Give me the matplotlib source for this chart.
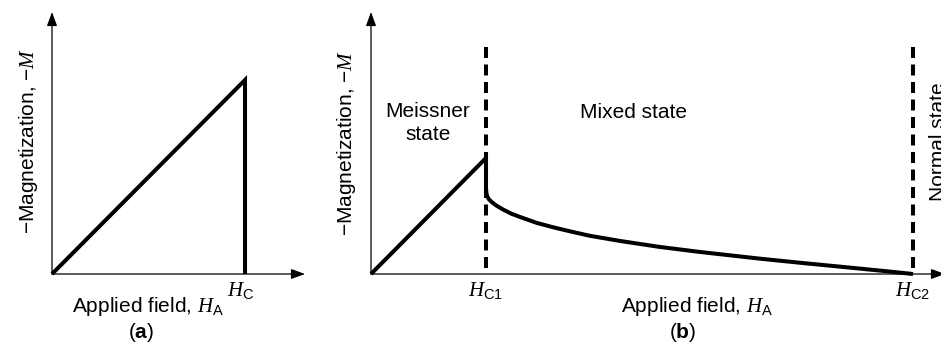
import matplotlib
matplotlib.use("Agg")
import matplotlib.pyplot as plt
from matplotlib.transforms import blended_transform_factory

plt.rcParams.update({
    "font.family": ["Liberation Sans", "DejaVu Sans"],
    "font.size": 15,
    "mathtext.fontset": "custom",
    "mathtext.it": "Liberation Serif:italic",
    "mathtext.rm": "Liberation Sans",
    "mathtext.sf": "Liberation Sans",
    "mathtext.bf": "Liberation Sans:bold",
    "lines.scale_dashes": False,
})

# Type I superconductor: -M rises linearly with H_A, drops to zero at H_C
field_a = [0.0, 1.0, 1.0]
mag_a = [0.0, 1.0, 0.0]
hc_a = 1.0

# Type II superconductor: Meissner branch up to H_C1, mixed-state decay to H_C2
field_meissner = [0.0, 1.0]
mag_meissner = [0.0, 1.0]
field_mixed = [1.0, 1.0, 1.003, 1.01, 1.025, 1.05, 1.09, 1.15, 1.22, 1.30,
               1.443, 1.583, 1.73, 1.9, 2.165, 2.513, 2.861, 3.383, 3.73,
               4.165, 4.45, 4.713]
mag_mixed = [1.0, 0.74, 0.70, 0.67, 0.645, 0.62, 0.59, 0.555, 0.52, 0.49,
             0.44, 0.403, 0.368, 0.33, 0.285, 0.233, 0.19, 0.132, 0.097,
             0.055, 0.027, 0.0]
hc1 = 1.0
hc2 = 4.713

W, H = 941, 345
fig = plt.figure(figsize=(W / 100, H / 100), dpi=100)


def fx(px):
    return px / W


def fy(py):
    return 1 - py / H


def make_axes(left, right, bottom, top):
    ax = fig.add_axes([fx(left), fy(bottom), fx(right) - fx(left), fy(top) - fy(bottom)])
    ax.set_axis_off()
    return ax


LW = 2.9
AX_LW = 0.9

# ---- panel (a) ----
ax_a = make_axes(52, 305, 274, 12)
ax_a.set_xlim(0, 253 / 193)
ax_a.set_ylim(0, 262 / 194)

# ---- panel (b) ----
ax_b = make_axes(371, 945, 274, 12)
ax_b.set_xlim(0, 574 / 115)
ax_b.set_ylim(0, 262 / 116)

for ax in (ax_a, ax_b):
    x1 = ax.get_xlim()[1]
    y1 = ax.get_ylim()[1]
    arrow = dict(arrowstyle="-|>,head_length=0.6,head_width=0.22", lw=AX_LW,
                 color="black", shrinkA=0, shrinkB=0, mutation_scale=14)
    ax.annotate("", xy=(x1, 0), xytext=(0, 0), arrowprops=arrow, annotation_clip=False)
    ax.annotate("", xy=(0, y1), xytext=(0, 0), arrowprops=arrow, annotation_clip=False)

ax_a.plot(field_a, mag_a, color="black", lw=LW, solid_capstyle="butt",
          solid_joinstyle="miter", clip_on=False)

dash_top = 227 / 116
for hx in (hc1, hc2):
    ax_b.plot([hx, hx], [dash_top, 0], color="black", lw=LW, dashes=(7.9, 4.7),
              dash_capstyle="butt", clip_on=False)
ax_b.plot(field_meissner, mag_meissner, color="black", lw=LW, solid_capstyle="butt",
          solid_joinstyle="miter", clip_on=False)
ax_b.plot(field_mixed, mag_mixed, color="black", lw=LW, solid_capstyle="butt",
          solid_joinstyle="round", clip_on=False)

# ---- labels ----
ylab = "\u2212Magnetization, \u2212$M$"
fig.text(fx(29), fy(141), ylab, rotation=90, ha="center", va="center")
fig.text(fx(347), fy(143), ylab, rotation=90, ha="center", va="center")

xlab = "Applied field, $H_{\\mathrm{A}}$"
fig.text(fx(148), fy(295), xlab, ha="center", va="top")
fig.text(fx(697), fy(295), xlab, ha="center", va="top")

fig.text(fx(141), fy(332), "($\\mathbf{a}$)", ha="center", va="center")
fig.text(fx(683), fy(332), "($\\mathbf{b}$)", ha="center", va="center")

tr_a = blended_transform_factory(ax_a.transData, fig.transFigure)
tr_b = blended_transform_factory(ax_b.transData, fig.transFigure)
ax_a.text(hc_a - 4 / 193, fy(280), "$H_{\\mathrm{C}}$", transform=tr_a, ha="center", va="top")
ax_b.text(hc1, fy(280), "$H_{\\mathrm{C1}}$", transform=tr_b, ha="center", va="top")
ax_b.text(hc2, fy(280), "$H_{\\mathrm{C2}}$", transform=tr_b, ha="center", va="top")

ax_b.text(57 / 115, (274 - 117) / 116, "Meissner", ha="center", va="baseline")
ax_b.text(57 / 115, (274 - 140) / 116, "state", ha="center", va="baseline")
ax_b.text(263 / 115, (274 - 118) / 116, "Mixed state", ha="center", va="baseline")
fig.text(fx(929), fy(142), "Normal state", rotation=90, ha="left", va="center")

fig.savefig("out.png", dpi=100, facecolor="white")
